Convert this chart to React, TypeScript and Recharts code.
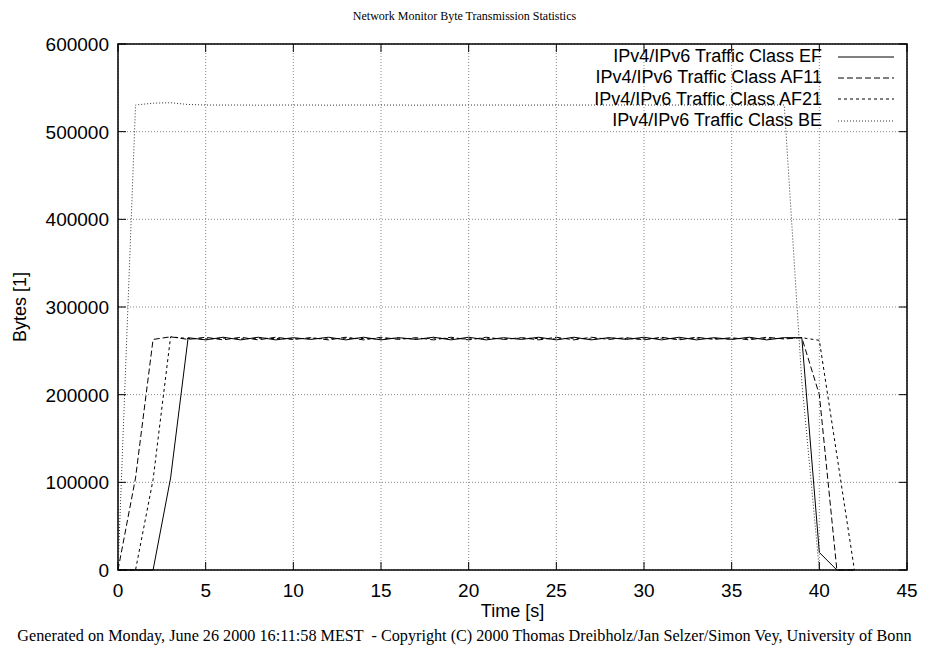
import { LineChart, Line, XAxis, YAxis, CartesianGrid, Legend, ReferenceArea } from "recharts";

// sample times in seconds
const times = [
  0, 1, 2, 3, 4, 5, 6, 7, 8, 9, 10, 11, 12, 13, 14, 15, 16, 17, 18, 19, 20,
  21, 22, 23, 24, 25, 26, 27, 28, 29, 30, 31, 32, 33, 34, 35, 36, 37, 38, 39,
  40, 41, 42,
];

// bytes per interval, one array per traffic class
const efBytes = [
  0, 0, 0, 105000, 265000, 262500, 265500, 262500, 265500, 262500, 265000,
  263000, 265500, 262500, 265500, 262500, 265000, 263000, 265500, 262500,
  265500, 262500, 265000, 263000, 265500, 262500, 265500, 262500, 265000,
  263000, 265500, 262500, 265500, 262500, 265000, 263000, 265500, 262500,
  265000, 265000, 20000, 0, 0,
];
const af11Bytes = [
  0, 105000, 263000, 266000, 263000, 265500, 262500, 265500, 262500, 265500,
  263000, 265000, 262500, 265500, 262500, 265500, 263000, 265000, 262500,
  265500, 262500, 265500, 263000, 265000, 262500, 265500, 262500, 265500,
  263000, 265000, 262500, 265500, 262500, 265500, 263000, 265000, 262500,
  265500, 263500, 265000, 200000, 0, 0,
];
const af21Bytes = [
  0, 0, 103000, 266000, 264000, 263500, 264500, 263500, 264500, 264000,
  263500, 264500, 263500, 264500, 264000, 263500, 264500, 263500, 264500,
  264000, 263500, 264500, 263500, 264500, 264000, 263500, 264500, 263500,
  264500, 264000, 263500, 264500, 263500, 264500, 264000, 263500, 264500,
  263500, 264500, 265000, 262000, 131000, 0,
];
const beBytes = [
  0, 530400, 532500, 533000, 531000, 530400, 530400, 530400, 530200, 530400,
  530400, 530400, 530200, 530400, 530400, 530400, 530400, 530200, 530400,
  530400, 530400, 530400, 530400, 530200, 530400, 530400, 530400, 530400,
  530400, 530400, 530400, 530400, 530400, 530400, 530400, 530400, 530400,
  530400, 530400, 215000, 0, 0, 0,
];

const xTicks = [0, 5, 10, 15, 20, 25, 30, 35, 40, 45];
const yTicks = [0, 100000, 200000, 300000, 400000, 500000, 600000];

const series = [
  { key: "ef", name: "IPv4/IPv6 Traffic Class EF", dash: undefined, color: "#000" },
  { key: "af11", name: "IPv4/IPv6 Traffic Class AF11", dash: "6 3", color: "#000" },
  { key: "af21", name: "IPv4/IPv6 Traffic Class AF21", dash: "3 3", color: "#000" },
  { key: "be", name: "IPv4/IPv6 Traffic Class BE", dash: "1 2", color: "#333" },
];

const data = times.map((t, i) => ({
  t,
  ef: efBytes[i],
  af11: af11Bytes[i],
  af21: af21Bytes[i],
  be: beBytes[i],
}));

const SANS = '"Liberation Sans", Arial, Helvetica, sans-serif';
const SERIF = '"Liberation Serif", "Times New Roman", serif';

const W = 929;
const H = 654;
const PLOT_W = 789;
const PLOT_H = 526;
const TICK = 8;

// gnuplot style ticks: pointing inwards, mirrored on the opposite border
const XTick = ({ x, y, payload }: any) => (
  <g>
    <line x1={x} x2={x} y1={y} y2={y - TICK} stroke="#000" />
    <line x1={x} x2={x} y1={y - PLOT_H} y2={y - PLOT_H + TICK} stroke="#000" />
    <text x={x} y={y + 27} textAnchor="middle" fontFamily={SANS} fontSize={19} fill="#000">
      {payload.value}
    </text>
  </g>
);

const YTick = ({ x, y, payload }: any) => (
  <g>
    <line x1={x} x2={x + TICK} y1={y} y2={y} stroke="#000" />
    <line x1={x + PLOT_W - TICK} x2={x + PLOT_W} y1={y} y2={y} stroke="#000" />
    <text x={x - 9} y={y + 7} textAnchor="end" fontFamily={SANS} fontSize={19} fill="#000">
      {payload.value}
    </text>
  </g>
);

const renderLegend = () => (
  <div style={{ fontFamily: SANS, fontSize: 18, lineHeight: "21.3px", color: "#000" }}>
    {series.map((s) => (
      <div
        key={s.key}
        style={{ display: "flex", alignItems: "center", justifyContent: "flex-end" }}
      >
        <span style={{ whiteSpace: "nowrap" }}>{s.name}</span>
        <svg width={56} height={12} style={{ marginLeft: 16 }}>
          <line x1={0} x2={56} y1={6} y2={6} stroke={s.color} strokeDasharray={s.dash} />
        </svg>
      </div>
    ))}
  </div>
);

export default function App() {
  return (
    <div style={{ position: "relative", width: W, height: H, background: "#fff" }}>
      <style>{"body{margin:0}"}</style>
      <div
        style={{
          position: "absolute",
          top: 9,
          left: 0,
          width: W,
          textAlign: "center",
          fontFamily: SERIF,
          fontSize: 12,
        }}
      >
        Network Monitor Byte Transmission Statistics
      </div>

      <LineChart
        width={W}
        height={H}
        data={data}
        margin={{ top: 44, right: 22, bottom: 54, left: 0 }}
      >
        <CartesianGrid stroke="#888" strokeDasharray="1 2" />
        <XAxis
          dataKey="t"
          type="number"
          domain={[0, 45]}
          ticks={xTicks}
          interval={0}
          height={30}
          axisLine={false}
          tickLine={false}
          tickSize={0}
          tickMargin={0}
          tick={(p: any) => <XTick {...p} />}
        />
        <YAxis
          type="number"
          domain={[0, 600000]}
          ticks={yTicks}
          interval={0}
          width={118}
          axisLine={false}
          tickLine={false}
          tickSize={0}
          tickMargin={0}
          tick={(p: any) => <YTick {...p} />}
        />
        <Legend
          layout="vertical"
          align="center"
          verticalAlign="middle"
          content={renderLegend}
          wrapperStyle={{ top: 46, left: 394, width: 500 }}
        />
        {series.map((s) => (
          <Line
            key={s.key}
            type="linear"
            dataKey={s.key}
            name={s.name}
            stroke={s.color}
            strokeWidth={1}
            strokeDasharray={s.dash}
            dot={false}
            activeDot={false}
            isAnimationActive={false}
          />
        ))}
        <ReferenceArea
          x1={0}
          x2={45}
          y1={0}
          y2={600000}
          fill="none"
          stroke="#000"
          strokeWidth={1.5}
          ifOverflow="visible"
        />
      </LineChart>

      <div
        style={{
          position: "absolute",
          top: 601,
          left: 118,
          width: PLOT_W,
          textAlign: "center",
          fontFamily: SANS,
          fontSize: 18,
        }}
      >
        Time [s]
      </div>
      <div
        style={{
          position: "absolute",
          left: 20,
          top: 307,
          transform: "translate(-50%, -50%) rotate(-90deg)",
          whiteSpace: "nowrap",
          fontFamily: SANS,
          fontSize: 18,
        }}
      >
        Bytes [1]
      </div>
      <div
        style={{
          position: "absolute",
          top: 627,
          left: 0,
          width: W,
          textAlign: "center",
          fontFamily: SERIF,
          fontSize: 16.2,
          whiteSpace: "pre",
        }}
      >
        Generated on Monday, June 26 2000 16:11:58 MEST  - Copyright (C) 2000 Thomas Dreibholz/Jan Selzer/Simon Vey, University of Bonn
      </div>
    </div>
  );
}
